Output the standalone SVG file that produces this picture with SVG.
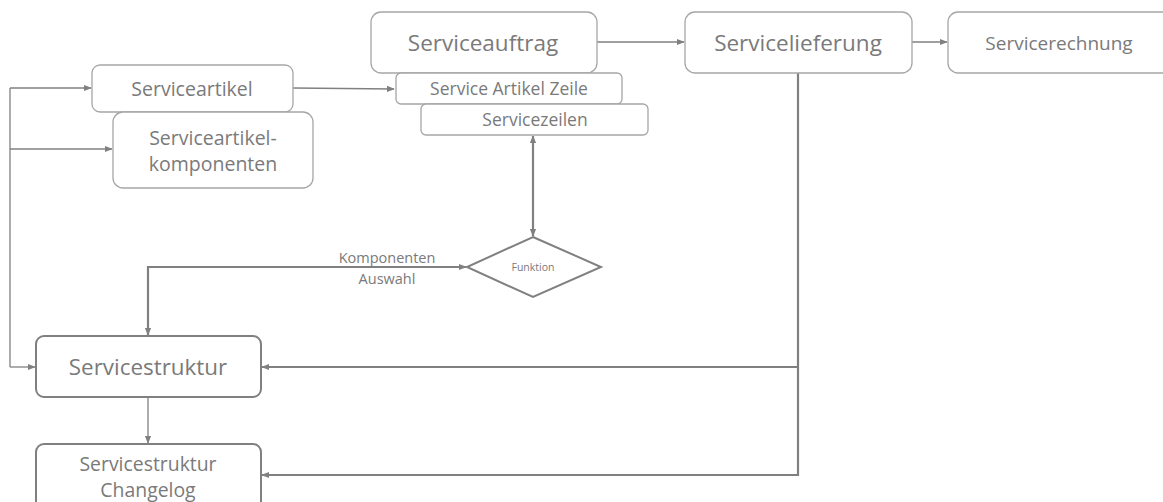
<svg xmlns="http://www.w3.org/2000/svg" width="1163" height="502" viewBox="0 0 1163 502">
  <style>
    .box { fill: #ffffff; stroke: #a6a6a6; stroke-width: 1.3; }
    .box-strong { fill: #ffffff; stroke: #808080; stroke-width: 2; }
    .lbl { font-family: "Open Sans", "Noto Sans", "DejaVu Sans", sans-serif; fill: #7a7a7a; text-anchor: middle; dominant-baseline: central; }
    .wire { fill: none; stroke: #808080; stroke-width: 1.3; }
    .wire-thick { fill: none; stroke: #808080; stroke-width: 2.2; }
  </style>
  <defs>
    <marker id="arrow" viewBox="0 0 10 10" refX="9" refY="5" markerWidth="8" markerHeight="8" markerUnits="userSpaceOnUse" orient="auto-start-reverse">
      <path d="M0,1 L10,5 L0,9 Z" fill="#808080"/>
    </marker>
  </defs>

  <rect width="1163" height="502" fill="#ffffff"/>

  <!-- connectors -->
  <g id="connectors">
    <!-- main process chain -->
    <line class="wire" x1="597" y1="42" x2="684" y2="42" marker-end="url(#arrow)"/>
    <line class="wire" x1="912" y1="42" x2="947" y2="42" marker-end="url(#arrow)"/>
    <!-- article to order line -->
    <line class="wire" x1="293" y1="88" x2="394" y2="89" marker-end="url(#arrow)"/>
    <!-- left feeder bus -->
    <polyline class="wire" points="10,88 10,367"/>
    <line class="wire" x1="10" y1="88" x2="91" y2="88" marker-end="url(#arrow)"/>
    <line class="wire" x1="10" y1="149" x2="112" y2="149" marker-end="url(#arrow)"/>
    <line class="wire" x1="10" y1="367" x2="35" y2="367" marker-end="url(#arrow)"/>
    <!-- service lines <-> function -->
    <line class="wire-thick" x1="533" y1="136" x2="533" y2="236" marker-start="url(#arrow)" marker-end="url(#arrow)"/>
    <!-- component selection -->
    <polyline class="wire-thick" points="148,335 148,267 466,267" marker-start="url(#arrow)" marker-end="url(#arrow)"/>
    <!-- delivery feeds structure and changelog -->
    <polyline class="wire-thick" points="798,73 798,475 262,475" marker-end="url(#arrow)"/>
    <line class="wire-thick" x1="798" y1="367" x2="262" y2="367" marker-end="url(#arrow)"/>
    <!-- structure to changelog -->
    <line class="wire" x1="148" y1="397" x2="148" y2="443" marker-end="url(#arrow)"/>
    <text class="lbl" x="387" y="257" font-size="14.5">Komponenten</text>
    <text class="lbl" x="387" y="278" font-size="14.5">Auswahl</text>
  </g>

  <g id="serviceauftrag">
    <rect class="box" x="371" y="12" width="226" height="61" rx="10"/>
    <text class="lbl" x="483" y="42" font-size="22.5">Serviceauftrag</text>
  </g>

  <g id="service-artikel-zeile">
    <rect class="box" x="396" y="73" width="226" height="31" rx="5"/>
    <text class="lbl" x="509" y="88" font-size="17.5">Service Artikel Zeile</text>
  </g>

  <g id="servicezeilen">
    <rect class="box" x="421" y="104" width="227" height="31" rx="5"/>
    <text class="lbl" x="535" y="119" font-size="17.5">Servicezeilen</text>
  </g>

  <g id="servicelieferung">
    <rect class="box" x="685" y="12" width="227" height="61" rx="10"/>
    <text class="lbl" x="798" y="42" font-size="22.5">Servicelieferung</text>
  </g>

  <g id="servicerechnung">
    <rect class="box" x="948" y="12" width="240" height="61" rx="10"/>
    <text class="lbl" x="1059" y="43" font-size="19">Servicerechnung</text>
  </g>

  <g id="serviceartikel">
    <rect class="box" x="92" y="65" width="201" height="47" rx="8"/>
    <text class="lbl" x="192" y="88" font-size="19.5">Serviceartikel</text>
  </g>

  <g id="serviceartikel-komponenten">
    <rect class="box" x="113" y="112" width="200" height="76" rx="10"/>
    <text class="lbl" x="213" y="137" font-size="19.5">Serviceartikel-</text>
    <text class="lbl" x="213" y="163" font-size="19.5">komponenten</text>
  </g>

  <g id="funktion">
    <polygon points="533,237 601,267 533,297 467,267" fill="#ffffff" stroke="#808080" stroke-width="2"/>
    <text class="lbl" x="533" y="267" font-size="10.5">Funktion</text>
  </g>

  <g id="servicestruktur">
    <rect class="box-strong" x="36" y="336" width="225" height="61" rx="8"/>
    <text class="lbl" x="148" y="366" font-size="22.4">Servicestruktur</text>
  </g>

  <g id="servicestruktur-changelog">
    <rect class="box-strong" x="36" y="444" width="225" height="70" rx="8"/>
    <text class="lbl" x="148" y="463" font-size="19.4">Servicestruktur</text>
    <text class="lbl" x="148" y="489" font-size="19.4">Changelog</text>
  </g>
</svg>
